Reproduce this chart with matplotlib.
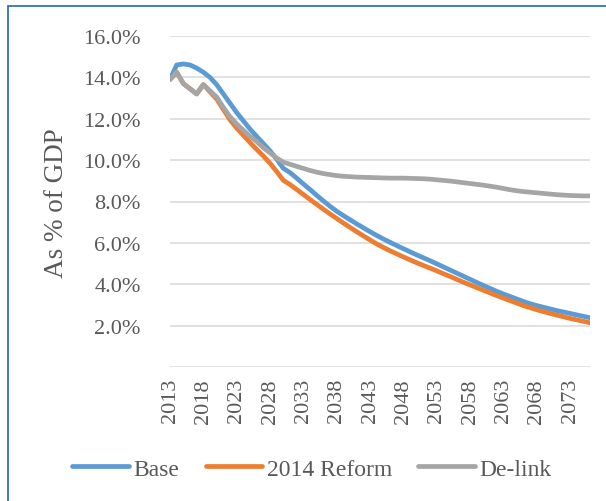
import matplotlib
matplotlib.use("Agg")
import matplotlib.pyplot as plt
from matplotlib.patches import Rectangle
from matplotlib.ticker import FuncFormatter

years = list(range(2013, 2077))

base = [13.9, 14.6, 14.65, 14.6, 14.45, 14.25, 14.0, 13.65, 13.2, 12.75,
        12.3, 11.9, 11.5, 11.15, 10.8, 10.45, 10.05, 9.6, 9.4, 9.13,
        8.85, 8.58, 8.3, 8.03, 7.77, 7.53, 7.32, 7.12, 6.92, 6.73,
        6.54, 6.36, 6.19, 6.03, 5.87, 5.72, 5.57, 5.42, 5.28, 5.14,
        4.99, 4.84, 4.69, 4.54, 4.39, 4.24, 4.09, 3.94, 3.8, 3.66,
        3.53, 3.41, 3.29, 3.17, 3.06, 2.97, 2.89, 2.81, 2.73, 2.66,
        2.59, 2.52, 2.45, 2.38]

reform = [13.9, 14.25, 13.7, 13.45, 13.2, 13.65, 13.3, 12.95, 12.45, 11.95,
          11.55, 11.2, 10.85, 10.52, 10.2, 9.85, 9.45, 9.02, 8.82, 8.58,
          8.34, 8.1, 7.86, 7.63, 7.4, 7.18, 6.96, 6.75, 6.54, 6.34,
          6.14, 5.95, 5.78, 5.62, 5.47, 5.32, 5.18, 5.04, 4.91, 4.78,
          4.65, 4.51, 4.38, 4.24, 4.1, 3.97, 3.84, 3.71, 3.58, 3.45,
          3.33, 3.21, 3.09, 2.97, 2.87, 2.77, 2.68, 2.59, 2.51, 2.43,
          2.35, 2.28, 2.21, 2.14]

delink = [13.9, 14.25, 13.7, 13.45, 13.2, 13.65, 13.35, 13.05, 12.55, 12.1,
          11.75, 11.45, 11.15, 10.9, 10.6, 10.35, 10.1, 9.9, 9.8, 9.7,
          9.6, 9.5, 9.42, 9.35, 9.3, 9.25, 9.22, 9.2, 9.18, 9.17,
          9.16, 9.15, 9.14, 9.13, 9.13, 9.13, 9.12, 9.11, 9.1, 9.08,
          9.05, 9.02, 8.99, 8.95, 8.91, 8.87, 8.83, 8.79, 8.74, 8.69,
          8.63, 8.57, 8.52, 8.48, 8.45, 8.42, 8.39, 8.36, 8.33, 8.31,
          8.29, 8.28, 8.27, 8.27]

labels = ["Base", "2014 Reform", "De-link"]
colors = ["#5B9BD5", "#ED7D31", "#A5A5A5"]

txt = "#595959"
plt.rcParams['font.family'] = ['Liberation Serif', 'DejaVu Serif']

fig = plt.figure(figsize=(6.06, 5.02), dpi=100)
ax = fig.add_axes([170/606, 1-368/502, 420/606, 331/502])

for s, lab, c in zip([base, reform, delink], labels, colors):
    ax.plot(years, s, color=c, lw=3.4, label=lab, solid_capstyle='round')

ax.set_xlim(2013, 2076)
ax.set_ylim(0, 16)
ax.set_yticks(range(0, 17, 2))
ax.yaxis.set_major_formatter(FuncFormatter(lambda v, p: "" if v == 0 else "%.1f%%" % v))
ax.set_xticks(range(2013, 2074, 5))
ax.tick_params(axis='x', labelrotation=90, length=0, pad=8, labelsize=16, colors=txt)
ax.tick_params(axis='y', length=0, pad=21, labelsize=16, colors=txt)
ax.grid(axis='y', color='#D9D9D9', lw=1.1)
ax.set_axisbelow(True)
for sp in ax.spines.values():
    sp.set_visible(False)

fig.text(57/606, 1-203/502, "As % of GDP", rotation=90, ha='center', va='center',
         fontsize=19.5, color=txt)

fig.legend(loc='center', bbox_to_anchor=(312/606, 1-470/502), ncol=3, frameon=False,
           fontsize=17, labelcolor=txt, handlelength=2.4, handletextpad=0.2,
           columnspacing=1.1)

# chart frame (only left and top edges fall inside the image)
fig.patches.append(Rectangle((8/606, -0.1), 1.2, 1.1-7/502, transform=fig.transFigure,
                             fill=False, ec='#2E75B6', lw=1.3))

fig.savefig("out.png", dpi=100)
